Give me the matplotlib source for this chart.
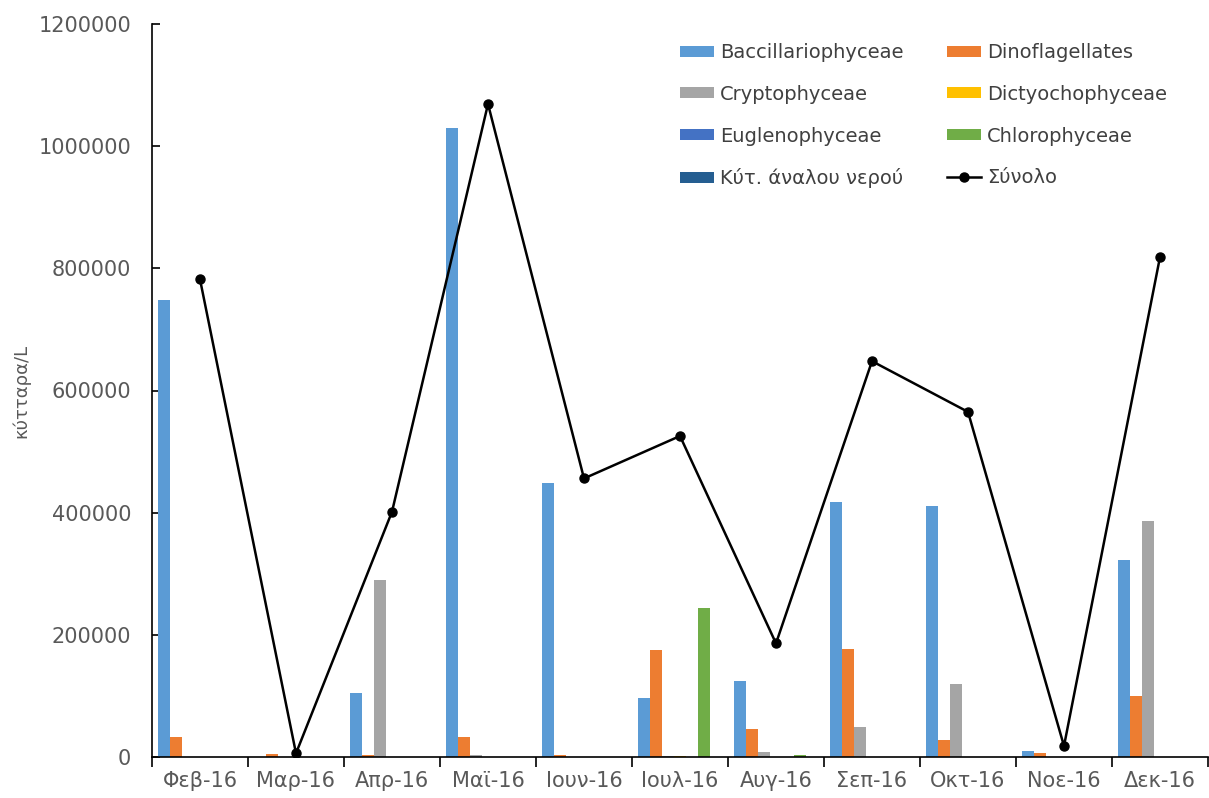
import matplotlib
matplotlib.use("Agg")
import matplotlib.pyplot as plt
import numpy as np

months = ["Φεβ-16", "Μαρ-16", "Απρ-16", "Μαϊ-16", "Ιουν-16", "Ιουλ-16",
          "Αυγ-16", "Σεπ-16", "Οκτ-16", "Νοε-16", "Δεκ-16"]

baccillariophyceae = [748000, 0, 104000, 1030000, 449000, 97000, 124000, 417000, 411000, 9800, 322000]
dinoflagellates = [32700, 4400, 4000, 33000, 4000, 175000, 45800, 177000, 27800, 6000, 100000]
cryptophyceae = [0, 0, 290000, 4000, 0, 1500, 8000, 49000, 120000, 0, 386000]
dictyochophyceae = [0, 0, 0, 0, 0, 1500, 0, 0, 0, 0, 0]
euglenophyceae = [0, 0, 0, 0, 0, 0, 0, 0, 0, 0, 0]
chlorophyceae = [0, 0, 0, 0, 0, 244000, 2500, 0, 0, 0, 0]
brackish_cells = [0, 0, 0, 0, 0, 0, 0, 0, 0, 0, 0]
total = [782000, 6000, 401500, 1069000, 456000, 525500, 186000, 648000, 565000, 18000, 818500]

series = [
    ("Baccillariophyceae", baccillariophyceae, "#5B9BD5"),
    ("Dinoflagellates", dinoflagellates, "#ED7D31"),
    ("Cryptophyceae", cryptophyceae, "#A5A5A5"),
    ("Dictyochophyceae", dictyochophyceae, "#FFC000"),
    ("Euglenophyceae", euglenophyceae, "#4472C4"),
    ("Chlorophyceae", chlorophyceae, "#70AD47"),
    ("Κύτ. άναλου νερού", brackish_cells, "#255E91"),
]

W, H = 1209, 798
fig = plt.figure(figsize=(W / 100, H / 100), dpi=100)
ax = fig.add_axes([152 / W, 1 - 757 / H, 1056 / W, 733 / H])

x = np.arange(len(months))
bw = 0.125
handles = {}
for i, (name, vals, col) in enumerate(series):
    b = ax.bar(x + (i - 3) * bw, vals, width=bw, color=col, label=name, zorder=2)
    handles[name] = b

line, = ax.plot(x, total, color="black", lw=1.8, marker="o", ms=6.5,
                label="Σύνολο", zorder=3)
handles["Σύνολο"] = line

ax.set_xlim(-0.5, len(months) - 0.5)
ax.set_ylim(0, 1200000)
ax.set_yticks(np.arange(0, 1200001, 200000))
ax.set_yticklabels([str(v) for v in range(0, 1200001, 200000)])

ax.set_xticks(x)
ax.set_xticklabels(months)
ax.set_xticks(np.arange(-0.5, len(months), 1), minor=True)
ax.tick_params(axis="x", which="major", length=0, pad=10, labelsize=15, labelcolor="#595959")
ax.tick_params(axis="x", which="minor", length=7, direction="out", color="black", width=1.2)
ax.tick_params(axis="y", direction="in", length=6, width=1.2, pad=15, labelsize=15,
               labelcolor="#595959")

for s in ["top", "right"]:
    ax.spines[s].set_visible(False)
for s in ["left", "bottom"]:
    ax.spines[s].set_linewidth(1.2)
    ax.spines[s].set_color("black")

ax.set_ylabel("κύτταρα/L", fontsize=13, color="#595959")
ax.yaxis.set_label_coords(-0.115, 0.5)

# legend is filled column by column, so list column 1 then column 2
order = ["Baccillariophyceae", "Cryptophyceae", "Euglenophyceae", "Κύτ. άναλου νερού",
         "Dinoflagellates", "Dictyochophyceae", "Chlorophyceae", "Σύνολο"]
hs = [handles[n] for n in order]
leg = ax.legend(hs, order, ncol=2, loc="upper left",
                bbox_to_anchor=(680 / W, 1 - 43 / H), bbox_transform=fig.transFigure,
                frameon=False, fontsize=14, handlelength=1.75, handleheight=0.5,
                handletextpad=0.3, columnspacing=2.25, labelspacing=1.17,
                borderpad=0, borderaxespad=0)
for t in leg.get_texts():
    t.set_color("#404040")

fig.savefig("out.png", dpi=100)
